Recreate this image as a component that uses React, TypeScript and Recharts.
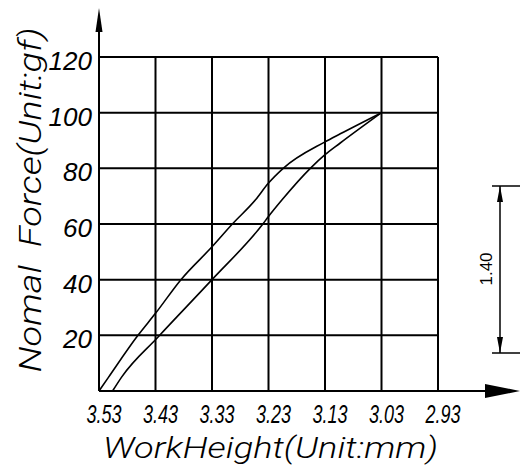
import { LineChart, Line, XAxis, YAxis, CartesianGrid } from "recharts";

const xTicks = [3.53, 3.43, 3.33, 3.23, 3.13, 3.03, 2.93];
const yTicks = [0, 20, 40, 60, 80, 100, 120];

// upper branch of the hysteresis loop
const upperHeight = [3.53, 3.513, 3.461, 3.43, 3.385, 3.33, 3.294, 3.253, 3.23, 3.204, 3.13, 3.103, 3.03];
const upperForce = [0, 5, 20, 27.9, 40, 51.8, 60, 68.7, 74.7, 80, 89.5, 92.4, 100];

// lower branch
const lowerHeight = [3.506, 3.49, 3.425, 3.33, 3.24, 3.23, 3.206, 3.156, 3.13, 3.103, 3.03];
const lowerForce = [0, 5, 19.5, 40, 60, 62.7, 68.7, 80, 84.9, 89.1, 100];

const toRows = (hs: number[], fs: number[]) => hs.map((h, i) => ({ h, f: fs[i] }));
const upper = toRows(upperHeight, upperForce);
const lower = toRows(lowerHeight, lowerForce);

const W = 520;
const H = 466;
const LEFT = 99;
const TOP = 57;
const RIGHT = 438;
const BOTTOM = 391;

const FONT = "'Liberation Sans', Arial, sans-serif";

const renderXTick = ({ x, y, payload }: any) => (
  <text
    key={payload.value}
    x={x + 5}
    y={y + 32}
    textAnchor="middle"
    fontFamily={FONT}
    fontStyle="italic"
    fontSize="25px"
    fill="#000"
    textLength={35}
    lengthAdjust="spacingAndGlyphs"
  >
    {Number(payload.value).toFixed(2)}
  </text>
);

const renderYTick = ({ x, y, payload }: any) =>
  payload.value === 0 ? (
    <g key={payload.value} />
  ) : (
    <text
      key={payload.value}
      x={x - 7}
      y={y + 13}
      textAnchor="end"
      fontFamily={FONT}
      fontStyle="italic"
      fontSize="26px"
      fill="#000"
    >
      {payload.value}
    </text>
  );

export default function App() {
  return (
    <div style={{ position: "absolute", left: 0, top: 0, width: W, height: H, background: "#fff" }}>
      <LineChart
        width={W}
        height={H}
        margin={{ top: TOP, right: W - RIGHT, left: 0, bottom: 0 }}
      >
        <CartesianGrid stroke="#000" strokeWidth={2} />
        <XAxis
          type="number"
          dataKey="h"
          domain={[2.93, 3.53]}
          reversed
          ticks={xTicks}
          interval={0}
          height={H - BOTTOM}
          tickSize={0}
          tickMargin={0}
          tickLine={false}
          axisLine={{ stroke: "#000", strokeWidth: 2 }}
          tick={renderXTick}
          allowDataOverflow
        />
        <YAxis
          type="number"
          dataKey="f"
          domain={[0, 120]}
          ticks={yTicks}
          interval={0}
          width={LEFT}
          tickSize={0}
          tickMargin={0}
          tickLine={false}
          axisLine={{ stroke: "#000", strokeWidth: 2 }}
          tick={renderYTick}
        />
        <Line
          data={upper}
          dataKey="f"
          type="monotone"
          stroke="#000"
          strokeWidth={1.6}
          dot={false}
          activeDot={false}
          isAnimationActive={false}
        />
        <Line
          data={lower}
          dataKey="f"
          type="monotone"
          stroke="#000"
          strokeWidth={1.6}
          dot={false}
          activeDot={false}
          isAnimationActive={false}
        />
      </LineChart>
      <svg
        width={W}
        height={H}
        style={{ position: "absolute", left: 0, top: 0, pointerEvents: "none" }}
      >
        {/* axis extensions with arrows */}
        <line x1={LEFT} y1={TOP} x2={LEFT} y2={32} stroke="#000" strokeWidth={2} />
        <polygon points={`${LEFT},8 ${LEFT - 3.5},32 ${LEFT + 3.5},32`} fill="#000" />
        <line x1={RIGHT} y1={BOTTOM} x2={485} y2={BOTTOM} stroke="#000" strokeWidth={2} />
        <polygon points={`${W},${BOTTOM} 485,${BOTTOM - 7} 485,${BOTTOM + 7}`} fill="#000" />

        {/* dimension marker */}
        <line x1={492} y1={186} x2={W} y2={186} stroke="#000" strokeWidth={1.5} />
        <line x1={492} y1={353} x2={W} y2={353} stroke="#000" strokeWidth={1.5} />
        <line x1={500} y1={186} x2={500} y2={353} stroke="#000" strokeWidth={1.5} />
        <polygon points="500,186 497,202 503,202" fill="#000" />
        <polygon points="500,353 497,337 503,337" fill="#000" />
        <text
          x={492}
          y={269}
          transform="rotate(-90 492 269)"
          textAnchor="middle"
          fontFamily="'Liberation Sans', Arial, sans-serif"
          fontSize={17}
          fill="#000"
        >
          1.40
        </text>

        {/* axis titles */}
        <text
          x={41}
          y={200}
          transform="rotate(-90 41 200)"
          textAnchor="middle"
          fontFamily="Roboto, sans-serif"
          fontStyle="italic"
          fontWeight={300}
          fontSize={31}
          fill="#000"
          textLength={345}
          lengthAdjust="spacingAndGlyphs"
          style={{ whiteSpace: "pre" }}
        >
          {"Nomal  Force(Unit:gf)"}
        </text>
        <text
          x={103}
          y={458}
          fontFamily="Roboto, sans-serif"
          fontStyle="italic"
          fontWeight={300}
          fontSize={29}
          fill="#000"
          textLength={335}
          lengthAdjust="spacingAndGlyphs"
        >
          WorkHeight(Unit:mm)
        </text>
      </svg>
    </div>
  );
}
